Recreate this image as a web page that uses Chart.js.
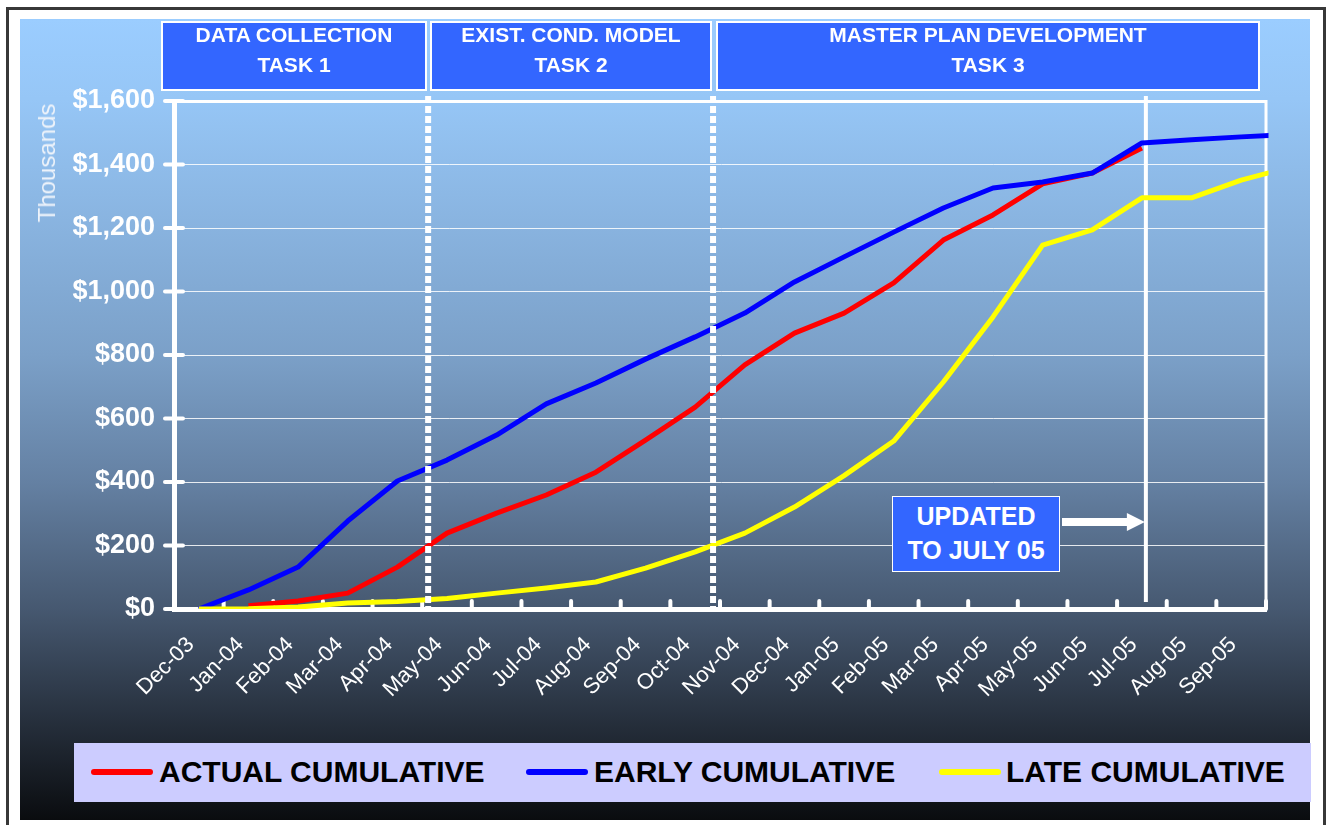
<!DOCTYPE html>
<html lang="en">
<head>
    <meta charset="UTF-8">
    <title>Cumulative Cost Curve</title>
    <script src="https://cdn.jsdelivr.net/npm/chart.js"></script>
    <style>
        body {
            margin: 0;
            width: 1326px;
            height: 825px;
            overflow: hidden;
            background: #fff;
            font-family: 'Liberation Sans', Arial, sans-serif;
            position: relative;
        }

        .frame {
            position: absolute;
            left: 6px;
            top: 7px;
            width: 1320px;
            height: 830px;
            box-sizing: border-box;
            border: 3px solid #383838;
            background: #fff;
        }

        .backdrop {
            position: absolute;
            left: 20px;
            top: 19px;
            width: 1290px;
            height: 801px;
            background: linear-gradient(to bottom,
                rgb(155,205,255) 0%,
                rgb(150,198,246) 10%,
                rgb(123,160,200) 42%,
                rgb(100,128,162) 58%,
                rgb(70,88,112) 73.7%,
                rgb(44,55,70) 85%,
                rgb(10,12,15) 100%);
        }

        #chart {
            position: absolute;
            left: 0;
            top: 0;
        }

        .task {
            position: absolute;
            top: 21px;
            height: 70px;
            box-sizing: border-box;
            border: 2px solid #fff;
            background: #3366ff;
            color: #fff;
            font-weight: bold;
            font-size: 21px;
            text-align: center;
        }

        .task div {
            position: absolute;
            left: 0;
            right: 0;
            line-height: 30px;
            white-space: nowrap;
        }

        .updated {
            position: absolute;
            left: 892px;
            top: 496px;
            width: 168px;
            height: 76px;
            box-sizing: border-box;
            border: 1px solid #fff;
            background: #3366ff;
            color: #fff;
            font-weight: bold;
            font-size: 25px;
            line-height: 34px;
            text-align: center;
            padding-top: 2px;
        }

        .ytitle {
            position: absolute;
            left: 47px;
            top: 163px;
            transform: translate(-50%, -50%) rotate(-90deg);
            color: #eef3fa;
            font-size: 24px;
            white-space: nowrap;
        }

        .legend {
            position: absolute;
            left: 74px;
            top: 743px;
            width: 1237px;
            height: 59px;
            background: #ccccff;
        }

        .legend .swatch {
            position: absolute;
            top: 26px;
            width: 62px;
            height: 6px;
            border-radius: 3px;
        }

        .legend .name {
            position: absolute;
            top: 14px;
            line-height: 30px;
            font-size: 30px;
            font-weight: bold;
            color: #000;
            white-space: nowrap;
        }
    </style>
</head>
<body>
    <div class="frame"></div>
    <div class="backdrop"></div>
    <canvas id="chart" width="1326" height="825"></canvas>

    <div class="task" style="left:161px; width:266px;"><div style="top:-3px;">DATA COLLECTION</div><div style="top:27px;">TASK 1</div></div>
    <div class="task" style="left:430px; width:282px;"><div style="top:-3px;">EXIST. COND. MODEL</div><div style="top:27px;">TASK 2</div></div>
    <div class="task" style="left:716px; width:544px;"><div style="top:-3px;">MASTER PLAN DEVELOPMENT</div><div style="top:27px;">TASK 3</div></div>

    <div class="ytitle">Thousands</div>

    <div class="updated">UPDATED<br>TO JULY 05</div>

    <div class="legend">
        <div class="swatch" style="left:17px; background:#ff0000;"></div>
        <div class="name" style="left:85px;">ACTUAL CUMULATIVE</div>
        <div class="swatch" style="left:452px; background:#0000ff;"></div>
        <div class="name" style="left:520px;">EARLY CUMULATIVE</div>
        <div class="swatch" style="left:865px; background:#ffff00;"></div>
        <div class="name" style="left:932px;">LATE CUMULATIVE</div>
    </div>

    <script>
        // months; the last one (Oct-05) runs past the right edge and is clipped
        const months = ['Dec-03', 'Jan-04', 'Feb-04', 'Mar-04', 'Apr-04', 'May-04', 'Jun-04',
            'Jul-04', 'Aug-04', 'Sep-04', 'Oct-04', 'Nov-04', 'Dec-04', 'Jan-05', 'Feb-05',
            'Mar-05', 'Apr-05', 'May-05', 'Jun-05', 'Jul-05', 'Aug-05', 'Sep-05', 'Oct-05'];
        const lastShown = 'Sep-05';

        // values in thousands of dollars
        const actualCumulative = [null, 10, 25, 50, 132, 239, 302, 359, 431, 532, 636, 769, 869,
            932, 1027, 1162, 1241, 1339, 1373, 1452, null, null, null];
        const earlyCumulative = [0, 60, 132, 277, 403, 469, 548, 646, 712, 787, 857, 932, 1030,
            1109, 1187, 1263, 1326, 1345, 1373, 1468, 1478, 1487, 1495];
        const lateCumulative = [0, 1, 6, 19, 24, 33, 50, 66, 85, 129, 180, 239, 321,
            420, 529, 715, 920, 1146, 1194, 1295, 1295, 1351, 1392];

        const yTicks = [0, 200, 400, 600, 800, 1000, 1200, 1400, 1600];

        // phase breaks (category position) and the status date
        const phaseBreaks = [4.62, 10.36];
        const statusDate = 19.08;

        const FONT = "'Liberation Sans', Arial, sans-serif";

        const overlay = {
            id: 'overlay',
            beforeDatasetsDraw(chart) {
                const { ctx, chartArea: a, scales: { x, y } } = chart;
                ctx.save();
                ctx.strokeStyle = '#fff';

                // right edge of the plot
                ctx.lineWidth = 3;
                ctx.beginPath();
                ctx.moveTo(a.right, a.top - 1);
                ctx.lineTo(a.right, a.bottom);
                ctx.stroke();

                // tick marks between months, pointing up
                ctx.lineWidth = 4;
                ctx.lineCap = 'round';
                for (let i = 1; i <= 22; i++) {
                    const px = x.getPixelForValue(i - 0.5);
                    ctx.beginPath();
                    ctx.moveTo(px, a.bottom - 8);
                    ctx.lineTo(px, a.bottom);
                    ctx.stroke();
                }

                // cross ticks on the value axis
                yTicks.forEach(v => {
                    const py = y.getPixelForValue(v);
                    ctx.beginPath();
                    ctx.moveTo(a.left - 9, py);
                    ctx.lineTo(a.left + 9, py);
                    ctx.stroke();
                });

                // status line
                const sx = x.getPixelForValue(statusDate);
                ctx.lineCap = 'butt';
                ctx.lineWidth = 4;
                ctx.beginPath();
                ctx.moveTo(sx, a.top - 5);
                ctx.lineTo(sx, a.bottom - 7);
                ctx.stroke();

                // arrow from the note to the status line
                ctx.fillStyle = '#fff';
                ctx.lineWidth = 8;
                ctx.beginPath();
                ctx.moveTo(1062, 522);
                ctx.lineTo(sx - 18, 522);
                ctx.stroke();
                ctx.beginPath();
                ctx.moveTo(sx - 19, 513);
                ctx.lineTo(sx - 1, 522);
                ctx.lineTo(sx - 19, 531);
                ctx.closePath();
                ctx.fill();
                ctx.restore();
            },
            afterDatasetsDraw(chart) {
                const { ctx, chartArea: a, scales: { x } } = chart;
                ctx.save();
                ctx.strokeStyle = '#fff';
                ctx.lineWidth = 6;
                ctx.setLineDash([7, 3]);
                phaseBreaks.forEach(v => {
                    const px = x.getPixelForValue(v);
                    ctx.beginPath();
                    ctx.moveTo(px, a.top - 5);
                    ctx.lineTo(px, a.bottom);
                    ctx.stroke();
                });
                ctx.restore();
            }
        };

        new Chart(document.getElementById('chart'), {
            type: 'line',
            data: {
                labels: months,
                datasets: [
                    { label: 'ACTUAL CUMULATIVE', data: actualCumulative, borderColor: '#ff0000', order: 2 },
                    { label: 'EARLY CUMULATIVE', data: earlyCumulative, borderColor: '#0000ff', order: 1 },
                    { label: 'LATE CUMULATIVE', data: lateCumulative, borderColor: '#ffff00', order: 0 }
                ]
            },
            options: {
                responsive: false,
                animation: false,
                devicePixelRatio: 1,
                layout: { padding: { top: 101, right: 60, left: 0, bottom: 0 } },
                elements: {
                    line: { borderWidth: 5, tension: 0, borderJoinStyle: 'round', fill: false },
                    point: { radius: 0, hoverRadius: 0 }
                },
                plugins: {
                    legend: { display: false },
                    tooltip: { enabled: false }
                },
                scales: {
                    x: {
                        type: 'category',
                        offset: true,
                        // cut the axis at Sep-05 but keep drawing the line on to Oct-05 (clipped)
                        afterDataLimits(s) { s.max = months.indexOf(lastShown); },
                        grid: { display: false },
                        border: { color: '#fff', width: 5 },
                        ticks: {
                            color: '#fff',
                            font: { family: FONT, size: 22 },
                            minRotation: 45,
                            maxRotation: 45,
                            autoSkip: false,
                            padding: 15,
                            labelOffset: -8
                        },
                        afterFit(s) { s.height = 216; }
                    },
                    y: {
                        min: 0,
                        max: 1600,
                        afterBuildTicks(s) { s.ticks = yTicks.map(v => ({ value: v })); },
                        grid: {
                            drawTicks: false,
                            color: c => c.tick && c.tick.value === 0 ? 'rgba(0,0,0,0)' : (c.tick && c.tick.value === 1600 ? '#fff' : 'rgba(255,255,255,0.85)'),
                            lineWidth: c => c.tick && c.tick.value === 1600 ? 3 : 1
                        },
                        border: { color: '#fff', width: 5 },
                        ticks: {
                            color: '#fff',
                            font: { family: FONT, size: 27, weight: 'bold' },
                            padding: 19,
                            callback: v => '$' + v.toLocaleString('en-US')
                        },
                        afterFit(s) { s.width = 174; }
                    }
                }
            },
            plugins: [overlay]
        });
    </script>
</body>
</html>
